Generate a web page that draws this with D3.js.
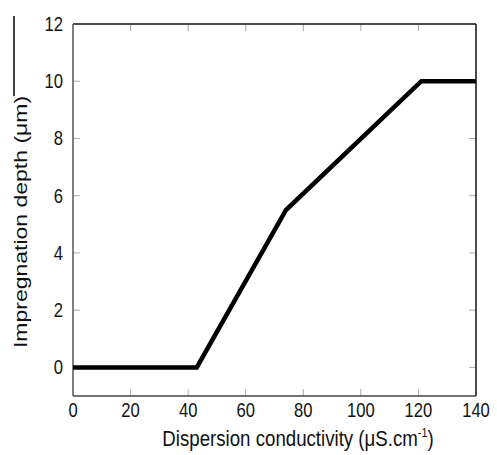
<!DOCTYPE html>
<html>
<head>
<meta charset="utf-8">
<script src="https://cdn.jsdelivr.net/npm/d3@7"></script>
<style>
  body { margin: 0; background: #fff; }
  text { font-family: "Liberation Sans", Arial, sans-serif; fill: #111; }
</style>
</head>
<body>
<div id="chart"></div>
<script>
// data
var conductivity = [0, 43, 74, 121, 140];
var depth = [0, 0, 5.5, 10, 10];
var xTicks = [0, 20, 40, 60, 80, 100, 120, 140];
var yTicks = [0, 2, 4, 6, 8, 10, 12];

var W = 497, H = 455;
var margin = { top: 24, right: 21, bottom: 59, left: 73 },
    width = W - margin.left - margin.right,
    height = H - margin.top - margin.bottom;

// the source picture is a bit stretched vertically, so text is squeezed sideways
var squeeze = 0.83;

var svg = d3.select("#chart").append("svg")
    .attr("width", W).attr("height", H);

var g = svg.append("g")
    .attr("transform", `translate(${margin.left}, ${margin.top})`);

var x = d3.scaleLinear().domain([0, 140]).range([0, width]);
var y = d3.scaleLinear().domain([-1, 12]).range([height, 0]);

// inner ticks (gray), on all four sides
var tickCol = "#aaa";
g.append("g").selectAll("line").data(xTicks.slice(1, -1))
  .join("line")
  .attr("x1", d => x(d)).attr("x2", d => x(d))
  .attr("y1", height).attr("y2", height - 7)
  .attr("stroke", tickCol);
g.append("g").selectAll("line").data(xTicks.slice(1, -1))
  .join("line")
  .attr("x1", d => x(d)).attr("x2", d => x(d))
  .attr("y1", 0).attr("y2", 7)
  .attr("stroke", tickCol);
g.append("g").selectAll("line").data(yTicks.slice(0, -1))
  .join("line")
  .attr("x1", 0).attr("x2", 7)
  .attr("y1", d => y(d)).attr("y2", d => y(d))
  .attr("stroke", tickCol);
g.append("g").selectAll("line").data(yTicks.slice(0, -1))
  .join("line")
  .attr("x1", width - 7).attr("x2", width)
  .attr("y1", d => y(d)).attr("y2", d => y(d))
  .attr("stroke", tickCol);

// frame: left/bottom a bit grayer than top/right
g.append("line").attr("x1", 0).attr("x2", width).attr("y1", 0).attr("y2", 0)
  .attr("stroke", "#111").attr("stroke-width", 1.5);
g.append("line").attr("x1", width).attr("x2", width).attr("y1", 0).attr("y2", height)
  .attr("stroke", "#111").attr("stroke-width", 1.5);
g.append("line").attr("x1", 0).attr("x2", 0).attr("y1", 0).attr("y2", height)
  .attr("stroke", "#555").attr("stroke-width", 1.5);
g.append("line").attr("x1", 0).attr("x2", width).attr("y1", height).attr("y2", height)
  .attr("stroke", "#444").attr("stroke-width", 1.5);

// tick labels
g.append("g").selectAll("text").data(xTicks)
  .join("text")
  .attr("transform", d => `translate(${x(d)}, ${height + 21}) scale(${squeeze}, 1)`)
  .attr("text-anchor", "middle")
  .style("font-size", "20px")
  .text(d => d);
g.append("g").selectAll("text").data(yTicks)
  .join("text")
  .attr("transform", d => `translate(-10, ${y(d) + 7}) scale(${squeeze}, 1)`)
  .attr("text-anchor", "end")
  .style("font-size", "20px")
  .text(d => d);

// the curve
var line = d3.line().x(d => x(d[0])).y(d => y(d[1]));
g.append("path")
  .datum(d3.zip(conductivity, depth))
  .attr("d", line)
  .attr("fill", "none")
  .attr("stroke", "#000")
  .attr("stroke-width", 4.5)
  .attr("stroke-linejoin", "miter");

// axis titles
var xt = svg.append("text")
  .attr("transform", `translate(298, 446) scale(${squeeze}, 1)`)
  .attr("text-anchor", "middle")
  .style("font-size", "22.5px")
  .text("Dispersion conductivity (μS.cm");
xt.append("tspan").attr("dy", -9).style("font-size", "13px").text("-1");
xt.append("tspan").attr("dy", 9).text(")");

svg.append("text")
  .attr("transform", `translate(27, 222) rotate(-90) scale(1, ${squeeze})`)
  .attr("text-anchor", "middle")
  .style("font-size", "23px")
  .text("Impregnation depth (μm)");

// stray vertical rule at the top left
svg.append("line")
  .attr("x1", 14).attr("x2", 14)
  .attr("y1", 16).attr("y2", 96)
  .attr("stroke", "#000").attr("stroke-width", 1.5);
</script>
</body>
</html>
